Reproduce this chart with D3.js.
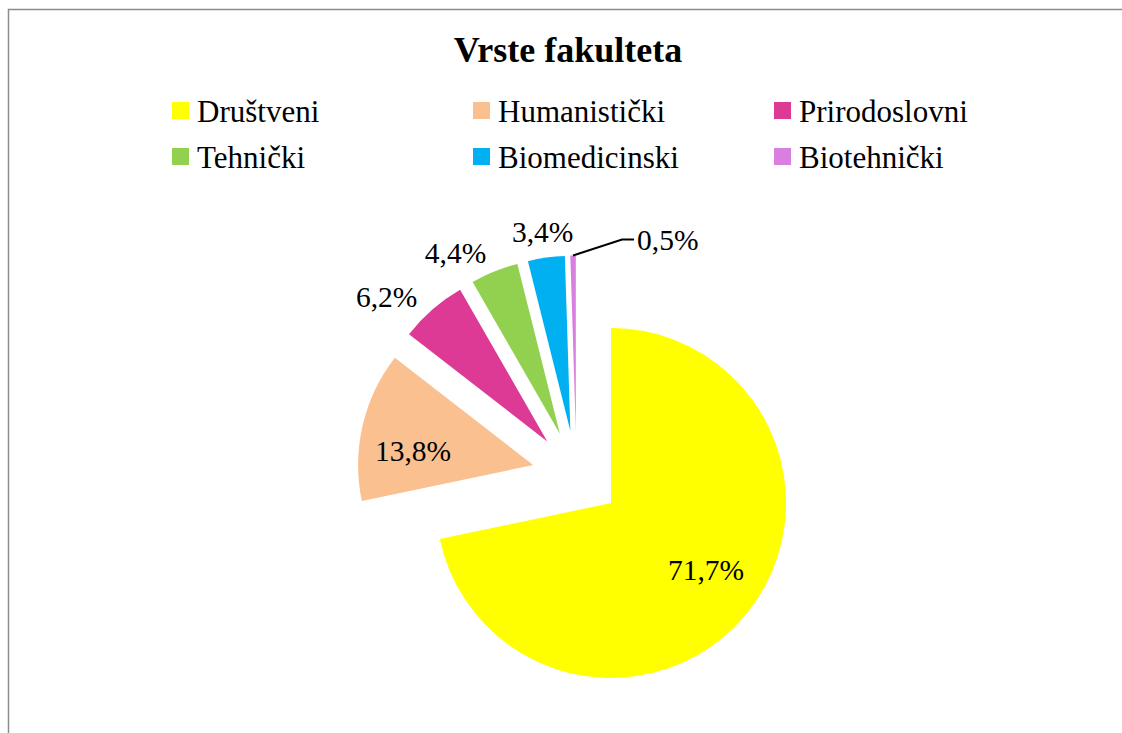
<!DOCTYPE html>
<html>
<head>
<meta charset="utf-8">
<script src="https://cdn.jsdelivr.net/npm/d3@7"></script>
<style>
  html, body { margin: 0; padding: 0; background: #fff; }
  svg { display: block; }
</style>
</head>
<body>
<svg id="chart" width="1122" height="733"></svg>
<script>
// ---- data ----
const title = "Vrste fakulteta";
const categories = ["Društveni", "Humanistički", "Prirodoslovni", "Tehnički", "Biomedicinski", "Biotehnički"];
const values = [71.7, 13.8, 6.2, 4.4, 3.4, 0.5];
const labels = ["71,7%", "13,8%", "6,2%", "4,4%", "3,4%", "0,5%"];
const colors = ["#FFFF00", "#FAC090", "#DD3A96", "#92D050", "#00B0F0", "#D97FDF"];

// ---- label layout (degrees shift from slice mid-angle, distance from slice center) ----
const labelShift = [-4, -6, -7, -8, 0, 0];
const labelDist  = [116, 121, 216, 209, 201, null];

const FONT = "'Liberation Serif', 'Times New Roman', serif";
const svg = d3.select("#chart");

// chart border (extends beyond right/bottom of view)
svg.append("rect")
  .attr("x", 8.5).attr("y", 9.5)
  .attr("width", 1300).attr("height", 900)
  .attr("fill", "none").attr("stroke", "#8c8c8c").attr("stroke-width", 1.5);

// title
svg.append("text")
  .attr("x", 568).attr("y", 62)
  .attr("text-anchor", "middle")
  .style("font-family", FONT)
  .attr("font-size", 36).attr("font-weight", "bold")
  .text(title);

// legend
const legendCols = [172, 473, 774];
const legendRows = [102, 148];
const legend = svg.append("g");
categories.forEach((c, i) => {
  const col = i % 3, row = Math.floor(i / 3);
  const g = legend.append("g").attr("transform", `translate(${legendCols[col]},${legendRows[row]})`);
  g.append("rect").attr("width", 17).attr("height", 17).attr("fill", colors[i]);
  g.append("text").attr("x", 25).attr("y", 19.7)
    .style("font-family", FONT).attr("font-size", 31).text(c);
});

// pie
const cx = 576.5, cy = 475, R = 175, explode = 44.5;
const pie = d3.pie().sort(null).value(d => d).startAngle(0).endAngle(2 * Math.PI);
const arcs = pie(values);
const arc = d3.arc().innerRadius(0).outerRadius(R);

const gPie = svg.append("g").attr("transform", `translate(${cx},${cy})`);

const slices = gPie.selectAll("g.slice").data(arcs).enter().append("g")
  .attr("class", "slice")
  .attr("transform", d => {
    const a = (d.startAngle + d.endAngle) / 2;
    return `translate(${explode * Math.sin(a)},${-explode * Math.cos(a)})`;
  });

slices.append("path")
  .attr("d", arc)
  .attr("fill", (d, i) => colors[i]);

// labels
slices.each(function(d, i) {
  const g = d3.select(this);
  const mid = (d.startAngle + d.endAngle) / 2;
  if (labelDist[i] != null) {
    const a = mid + labelShift[i] * Math.PI / 180;
    g.append("text")
      .attr("x", labelDist[i] * Math.sin(a))
      .attr("y", -labelDist[i] * Math.cos(a))
      .attr("dy", "0.35em")
      .attr("text-anchor", "middle")
      .style("font-family", FONT)
      .attr("font-size", 29.5)
      .text(labels[i]);
  } else {
    // leader line label for tiny slice
    const p0 = [R * Math.sin(mid), -R * Math.cos(mid)];
    const p1 = [p0[0] + 49, p0[1] - 16];
    const p2 = [p1[0] + 12, p1[1]];
    g.append("polyline")
      .attr("points", [p0, p1, p2].map(p => p.join(",")).join(" "))
      .attr("fill", "none").attr("stroke", "#000").attr("stroke-width", 2);
    g.append("text")
      .attr("x", p2[0] + 3)
      .attr("y", p2[1])
      .attr("dy", "0.35em")
      .attr("text-anchor", "start")
      .style("font-family", FONT)
      .attr("font-size", 29.5)
      .text(labels[i]);
  }
});
</script>
</body>
</html>
